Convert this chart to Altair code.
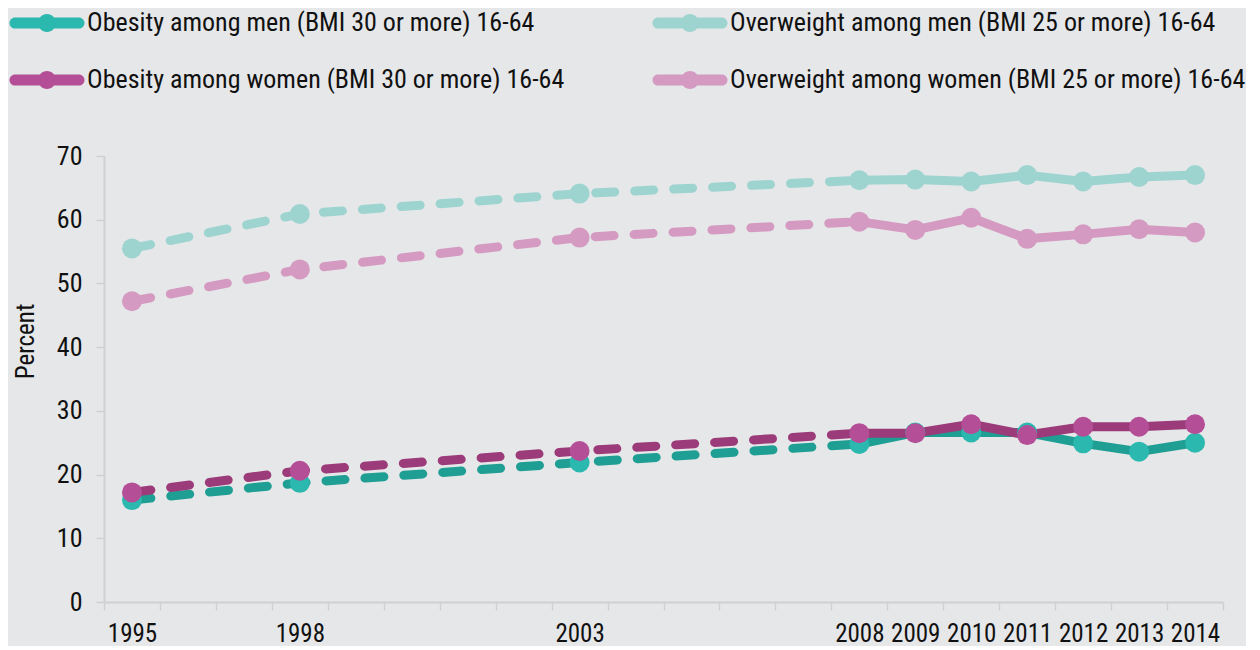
import altair as alt
import pandas as pd

# ---- data ----
years = [1995, 1998, 2003, 2008, 2009, 2010, 2011, 2012, 2013, 2014]
obese_men = [16.0, 18.7, 21.9, 24.8, 26.6, 26.6, 26.6, 24.9, 23.6, 25.0]
obese_women = [17.2, 20.6, 23.7, 26.5, 26.5, 27.9, 26.2, 27.5, 27.5, 27.9]
overweight_men = [55.5, 60.9, 64.1, 66.2, 66.3, 66.0, 67.0, 66.0, 66.7, 67.0]
overweight_women = [47.2, 52.2, 57.2, 59.7, 58.4, 60.3, 57.0, 57.7, 58.5, 58.0]

series_names = [
    "Obesity among men (BMI 30 or more) 16-64",
    "Overweight among men (BMI 25 or more) 16-64",
    "Obesity among women (BMI 30 or more) 16-64",
    "Overweight among women (BMI 25 or more) 16-64",
]
series_values = [obese_men, overweight_men, obese_women, overweight_women]

axis_years = [1995, 1996, 1997, 1998, 1999, 2000, 2001, 2002, 2003, 2004,
              2005, 2006, 2007, 2008, 2009, 2010, 2011, 2012, 2013, 2014]
labeled_years = [1995, 1998, 2003, 2008, 2009, 2010, 2011, 2012, 2013, 2014]
solid_from = 2008

line_colors = ["#1f9e94", "#9ed4d0", "#9b3b79", "#d59ac1"]
point_colors = ["#2bb8af", "#9ed4d0", "#b44f97", "#d59ac1"]

rows = []
for name, vals in zip(series_names, series_values):
    for y, v in zip(years, vals):
        rows.append({"series": name, "year": y, "value": v})
df = pd.DataFrame(rows)

FONT = "Roboto Condensed"

label_list = ",".join(str(y) for y in labeled_years)
x_enc = alt.X(
    "year:O",
    scale=alt.Scale(type="band", domain=axis_years, paddingInner=0, paddingOuter=0),
    bandPosition=0.5,
    axis=alt.Axis(
        title=None,
        tickBand="extent",
        labelExpr=f"indexof([{label_list}], datum.value) >= 0 ? datum.label : ''",
        labelAngle=0,
        labelOverlap=False,
        labelFont=FONT,
        labelFontSize=25,
        labelColor="#111111",
        labelPadding=11,
        tickSize=8,
        tickColor="#cfd0d2",
        tickWidth=1.5,
        domainColor="#cfd0d2",
        domainWidth=2,
        grid=False,
    ),
)
y_enc = alt.Y(
    "value:Q",
    scale=alt.Scale(domain=[0, 70], nice=False),
    axis=alt.Axis(
        title="Percent",
        values=[0, 10, 20, 30, 40, 50, 60, 70],
        labelFont=FONT,
        labelFontSize=26,
        labelColor="#111111",
        labelPadding=14,
        tickSize=8,
        tickColor="#cfd0d2",
        tickWidth=1.5,
        domainColor="#cfd0d2",
        domainWidth=2,
        grid=False,
        titleFont=FONT,
        titleFontSize=25,
        titleFontWeight="normal",
        titleColor="#111111",
        titleX=-79,
        titleY=185,
        titleAlign="center",
        titleBaseline="middle",
        titleAngle=270,
    ),
)

line_color = alt.Color(
    "series:N",
    scale=alt.Scale(domain=series_names, range=line_colors),
    legend=None,
)

base = alt.Chart(df)

dashed = base.transform_filter(alt.datum.year <= solid_from).mark_line(
    strokeWidth=9, strokeDash=[19, 20], strokeCap="round"
).encode(x=x_enc, y=y_enc, color=line_color, detail="series:N")

solid = base.transform_filter(alt.datum.year >= solid_from).mark_line(
    strokeWidth=9, strokeCap="round", strokeJoin="round"
).encode(x=x_enc, y=y_enc, color=line_color, detail="series:N")

legend_path = ("M-3.55,-0.62 L3.55,-0.62 A0.62,0.62 0 0,1 3.55,0.62 "
               "L-3.55,0.62 A0.62,0.62 0 0,1 -3.55,-0.62 Z "
               "M-1,0 A1,1 0 1,1 1,0 A1,1 0 1,1 -1,0 Z")

points = base.mark_circle(size=400, opacity=1).encode(
    x=x_enc,
    y=y_enc,
    color=alt.Color(
        "series:N",
        scale=alt.Scale(domain=series_names, range=point_colors),
        legend=alt.Legend(
            title=None,
            orient="none",
            legendX=-70,
            legendY=-146,
            columns=2,
            direction="horizontal",
            symbolType=legend_path,
            symbolSize=324,
            symbolStrokeWidth=0,
            symbolOpacity=1,
            labelFont=FONT,
            labelFontSize=26,
            labelColor="#111111",
            labelOffset=27,
            labelLimit=700,
            rowPadding=31,
            columnPadding=87,
        ),
    ),
)

chart = (
    alt.layer(dashed, solid, points)
    .resolve_scale(color="independent")
    .properties(
        width=1119,
        height=446,
        background="#e6e7e9",
        padding={"left": 5, "top": 2, "right": 0, "bottom": 0},
    )
    .configure_view(stroke=None)
)

chart.save("out.html", embed_options={"renderer": "svg", "actions": False})
